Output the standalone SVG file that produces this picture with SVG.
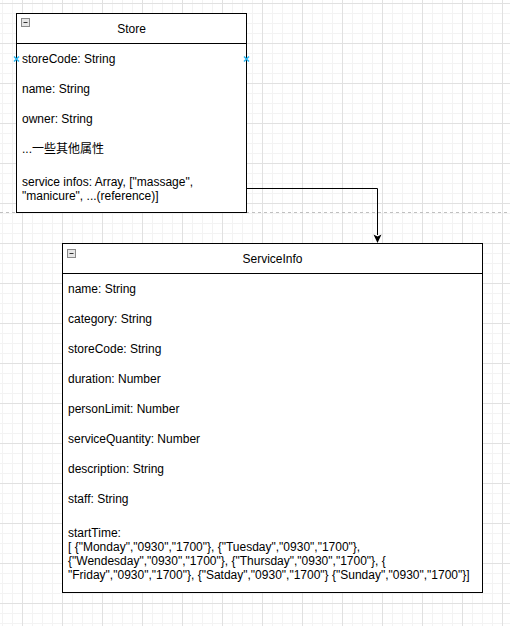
<svg xmlns="http://www.w3.org/2000/svg" width="510" height="626" viewBox="0 0 510 626">
  <style>
    .box { fill: #ffffff; stroke: #000000; stroke-width: 1; }
    .div { stroke: #000000; stroke-width: 1; }
    .title { font-family: "Liberation Sans", Arial, sans-serif; font-size: 12px; fill: #000000; text-anchor: middle; }
    .attr { font-family: "Liberation Sans", "Noto Sans CJK SC", Arial, sans-serif; font-size: 12px; fill: #000000; }
    .toggle { fill: #e6e6e6; stroke: #8a8a8a; stroke-width: 1; }
    .toggle-bar { stroke: #333333; stroke-width: 1; }
    .edge { fill: none; stroke: #000000; stroke-width: 1; }
    .pin { stroke: #29b6f2; stroke-width: 1.5; }
  </style>
  <defs>
    <pattern id="grid" patternUnits="userSpaceOnUse" x="22" y="3" width="40" height="40">
      <path d="M10.5 0V40M20.5 0V40M30.5 0V40M0 10.5H40M0 20.5H40M0 30.5H40" stroke="#f3f3f3" stroke-width="1" fill="none"/>
      <path d="M0.5 0V40M0 0.5H40" stroke="#e1e1e1" stroke-width="1" fill="none"/>
    </pattern>
  </defs>

  <!-- canvas -->
  <rect x="0" y="0" width="510" height="626" fill="#ffffff"/>
  <rect x="0" y="0" width="510" height="626" fill="url(#grid)"/>
  <!-- page break -->
  <line x1="0" y1="212.5" x2="510" y2="212.5" stroke="#c0c0c0" stroke-width="1" stroke-dasharray="3 3"/>

  <!-- connectors -->
  <g id="edges">
    <path class="edge" d="M246.5,188.5 H377.5 V235"/>
    <path d="M377.5,243 L373.5,234.5 L377.5,236.5 L381.5,234.5 Z" fill="#000000"/>
  </g>

  <!-- Store class -->
  <g id="store">
    <rect class="box" x="16.5" y="13.5" width="230" height="199"/>
    <line class="div" x1="16.5" y1="43.5" x2="246.5" y2="43.5"/>
    <rect class="toggle" x="21.5" y="18.5" width="8" height="8"/>
    <line class="toggle-bar" x1="23.5" y1="22.5" x2="27.5" y2="22.5"/>
    <text class="title" x="131.5" y="33">Store</text>
    <text class="attr" x="22" y="63">storeCode: String</text>
    <text class="attr" x="22" y="93">name: String</text>
    <text class="attr" x="22" y="123">owner: String</text>
    <text class="attr" x="22" y="153">...一些其他属性</text>
    <text class="attr" x="22" y="186">service infos: Array, ["massage",</text>
    <text class="attr" x="22" y="200">"manicure", ...(reference)]</text>
    <path class="pin" d="M14,56.5 L19,61.5 M19,56.5 L14,61.5"/>
    <path class="pin" d="M244,56.5 L249,61.5 M249,56.5 L244,61.5"/>
  </g>

  <!-- ServiceInfo class -->
  <g id="serviceinfo">
    <rect class="box" x="62.5" y="243.5" width="420" height="349"/>
    <line class="div" x1="62.5" y1="273.5" x2="482.5" y2="273.5"/>
    <rect class="toggle" x="67.5" y="249.5" width="8" height="8"/>
    <line class="toggle-bar" x1="69.5" y1="253.5" x2="73.5" y2="253.5"/>
    <text class="title" x="272.5" y="263">ServiceInfo</text>
    <text class="attr" x="68" y="293">name: String</text>
    <text class="attr" x="68" y="323">category: String</text>
    <text class="attr" x="68" y="353">storeCode: String</text>
    <text class="attr" x="68" y="383">duration: Number</text>
    <text class="attr" x="68" y="413">personLimit: Number</text>
    <text class="attr" x="68" y="443">serviceQuantity: Number</text>
    <text class="attr" x="68" y="473">description: String</text>
    <text class="attr" x="68" y="503">staff: String</text>
    <text class="attr" x="68" y="537">startTime:</text>
    <text class="attr" x="68" y="551">[ {"Monday","0930","1700"}, {"Tuesday","0930","1700"},</text>
    <text class="attr" x="68" y="565">{"Wendesday","0930","1700"}, {"Thursday","0930","1700"}, {</text>
    <text class="attr" x="68" y="579">"Friday","0930","1700"}, {"Satday","0930","1700"} {"Sunday","0930","1700"}]</text>
  </g>
</svg>
